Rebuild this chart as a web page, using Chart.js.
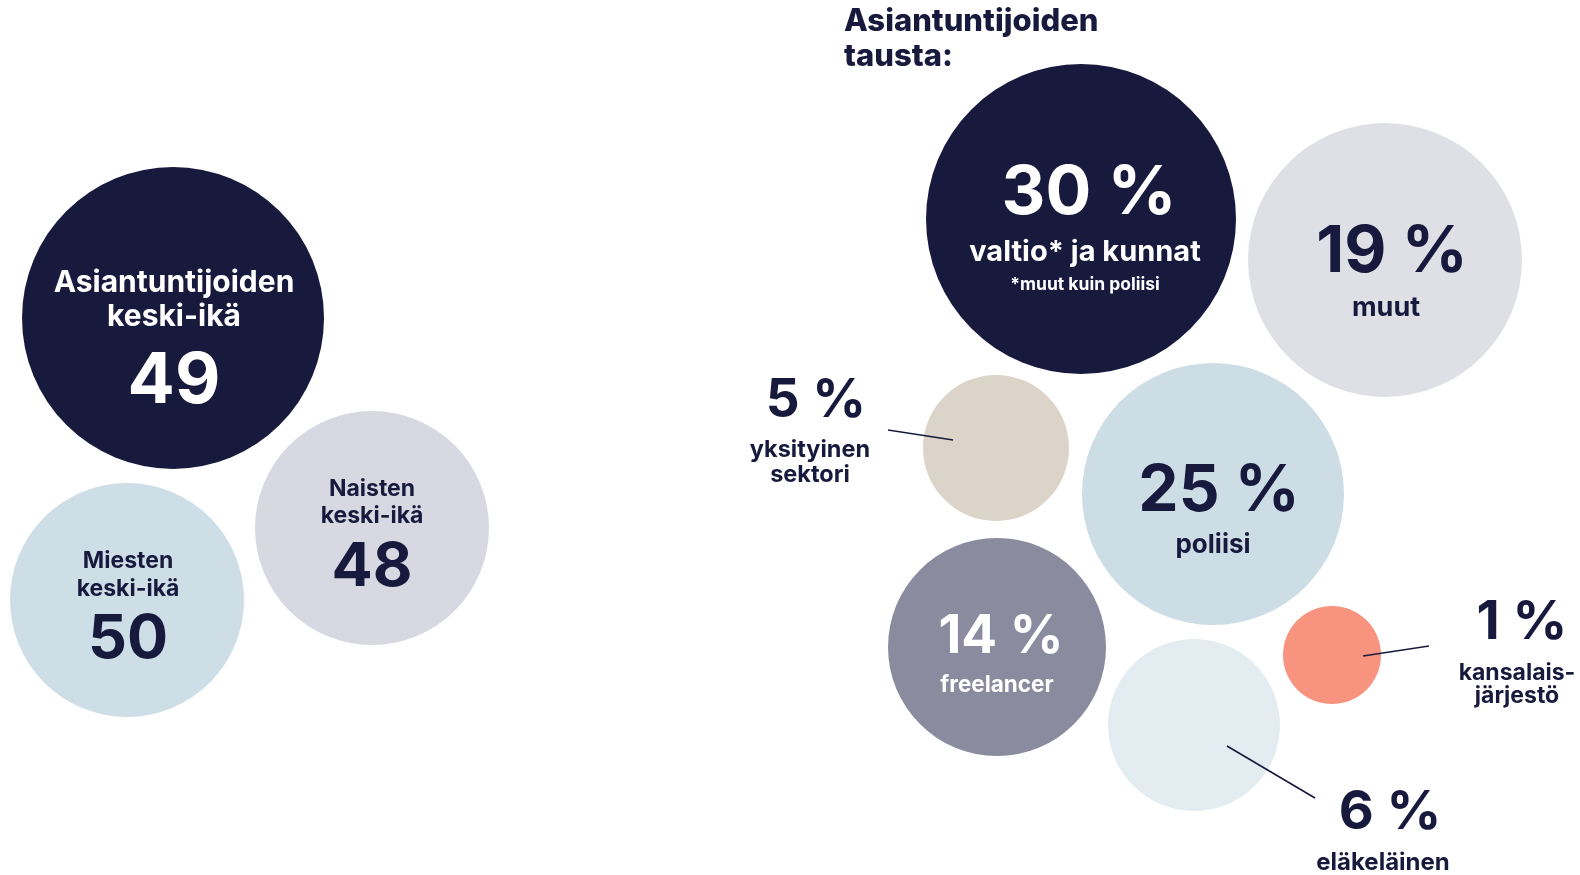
<!DOCTYPE html>
<html>
<head>
<meta charset="utf-8">
<script src="https://cdn.jsdelivr.net/npm/chart.js@4/dist/chart.umd.min.js"></script>
<style>
  html, body { margin: 0; padding: 0; background: #ffffff; }
  #wrap { width: 1580px; height: 875px; }
</style>
</head>
<body>
<div id="wrap"><canvas id="c" width="1580" height="875"></canvas></div>
<script>
// ---------- DATA ----------
const ageCategories = [['Asiantuntijoiden', 'keski-ikä'], ['Naisten', 'keski-ikä'], ['Miesten', 'keski-ikä']];
const ageValues = [49, 48, 50];

const backgroundTitle = ['Asiantuntijoiden', 'tausta:'];
const backgroundCategories = [['valtio* ja kunnat'], ['muut'], ['yksityinen', 'sektori'], ['poliisi'], ['freelancer'], ['kansalais-', 'järjestö'], ['eläkeläinen']];
const backgroundValues = [30, 19, 5, 25, 14, 1, 6];
const backgroundNote = '*muut kuin poliisi';

// ---------- LAYOUT (positions / sizes / styles, in page units) ----------
const NAVY = '#171a3d';
const ageLayout = [
  { x: 173, y: 318, r: 151, fill: NAVY,      ink: '#ffffff', cx: 174, labelBase: [292, 326], labelSize: 30, numBase: 403, numSize: 70 },
  { x: 372, y: 528, r: 117, fill: '#d8d8e2', ink: NAVY,      cx: 372, labelBase: [496, 523], labelSize: 23, numBase: 586, numSize: 61 },
  { x: 127, y: 600, r: 117, fill: '#cddee6', ink: NAVY,      cx: 128, labelBase: [568, 596], labelSize: 23, numBase: 658, numSize: 61 }
];
const bgLayout = [
  { x: 1081, y: 219, r: 155, fill: NAVY,      ink: '#ffffff', cx: 1089, numBase: 214, numSize: 68, labelBase: [261], labelSize: 29, noteBase: 290, noteSize: 17.5, lcx: 1085 },
  { x: 1385, y: 260, r: 137, fill: '#dfdfe6', ink: NAVY,      cx: 1392, numBase: 272, numSize: 65, labelBase: [316], labelSize: 27, lcx: 1386 },
  { x: 996,  y: 448, r: 73,  fill: '#dcd3c9', ink: NAVY,      cx: 816,  numBase: 417, numSize: 53, labelBase: [457, 482], labelSize: 23.5, lcx: 810, leader: [888, 430, 953, 440] },
  { x: 1213, y: 494, r: 131, fill: '#cddde5', ink: NAVY,      cx: 1219, numBase: 511, numSize: 64, labelBase: [553], labelSize: 26, lcx: 1213 },
  { x: 997,  y: 647, r: 109, fill: '#8a8b9e', ink: '#ffffff', cx: 1001, numBase: 653, numSize: 53, labelBase: [692], labelSize: 22.5, lcx: 997 },
  { x: 1332, y: 655, r: 49,  fill: '#f7937e', ink: NAVY,      cx: 1522, numBase: 639, numSize: 54, labelBase: [680, 703], labelSize: 23, lcx: 1517, leader: [1363, 656, 1429, 646] },
  { x: 1194, y: 725, r: 86,  fill: '#e3ecf1', ink: NAVY,      cx: 1390, numBase: 829, numSize: 54, labelBase: [870], labelSize: 24, lcx: 1383, leader: [1227, 746, 1315, 798] }
];
const titleLayout = { x: 844, base: [31, 66], size: 31 };

const FONT = 'Inter, "Open Sans", sans-serif';

// ---------- PLUGIN: text & leader lines ----------
const labelPlugin = {
  id: 'labels',
  afterDatasetsDraw(chart) {
    const ctx = chart.ctx;
    const sx = chart.scales.x, sy = chart.scales.y;
    const px = v => sx.getPixelForValue(v);
    const py = v => sy.getPixelForValue(v);
    ctx.save();
    ctx.textBaseline = 'alphabetic';

    function txt(s, x, y, size, color, weight, align) {
      ctx.font = (weight || 700) + ' ' + size + 'px ' + FONT;
      ctx.fillStyle = color;
      ctx.textAlign = align || 'center';
      ctx.fillText(s, px(x), py(y));
    }

    ageLayout.forEach((L, i) => {
      ageCategories[i].forEach((line, k) => txt(line, L.cx, L.labelBase[k], L.labelSize, L.ink, 700));
      txt(String(ageValues[i]), L.cx, L.numBase, L.numSize, L.ink, 700);
    });

    backgroundTitle.forEach((line, k) => txt(line, titleLayout.x, titleLayout.base[k], titleLayout.size, NAVY, 800, 'left'));

    ctx.strokeStyle = NAVY;
    ctx.lineWidth = 1.6;
    bgLayout.forEach(L => {
      if (!L.leader) return;
      ctx.beginPath();
      ctx.moveTo(px(L.leader[0]), py(L.leader[1]));
      ctx.lineTo(px(L.leader[2]), py(L.leader[3]));
      ctx.stroke();
    });

    bgLayout.forEach((L, i) => {
      txt(backgroundValues[i] + ' %', L.cx, L.numBase, L.numSize, L.ink, 700);
      const lx = L.lcx !== undefined ? L.lcx : L.cx;
      backgroundCategories[i].forEach((line, k) => txt(line, lx, L.labelBase[k], L.labelSize, L.ink, 700));
      if (L.noteBase) txt(backgroundNote, lx, L.noteBase, L.noteSize, L.ink, 700);
    });
    ctx.restore();
  }
};

// ---------- CHART ----------
new Chart(document.getElementById('c'), {
  type: 'bubble',
  data: {
    datasets: [
      {
        label: 'keski-ikä',
        data: ageValues.map((v, i) => ({ x: ageLayout[i].x, y: ageLayout[i].y, r: ageLayout[i].r, v })),
        backgroundColor: ageLayout.map(L => L.fill),
        borderWidth: 0,
        hoverRadius: 0,
        clip: false
      },
      {
        label: 'tausta',
        data: backgroundValues.map((v, i) => ({ x: bgLayout[i].x, y: bgLayout[i].y, r: bgLayout[i].r, v })),
        backgroundColor: bgLayout.map(L => L.fill),
        borderWidth: 0,
        hoverRadius: 0,
        clip: false
      }
    ]
  },
  options: {
    responsive: false,
    devicePixelRatio: 1,
    animation: false,
    events: [],
    layout: { padding: 0, autoPadding: false },
    plugins: { legend: { display: false }, tooltip: { enabled: false } },
    scales: {
      x: { type: 'linear', min: 0, max: 1580, display: false },
      y: { type: 'linear', min: 0, max: 875, reverse: true, display: false }
    }
  },
  plugins: [labelPlugin]
});
</script>
</body>
</html>
